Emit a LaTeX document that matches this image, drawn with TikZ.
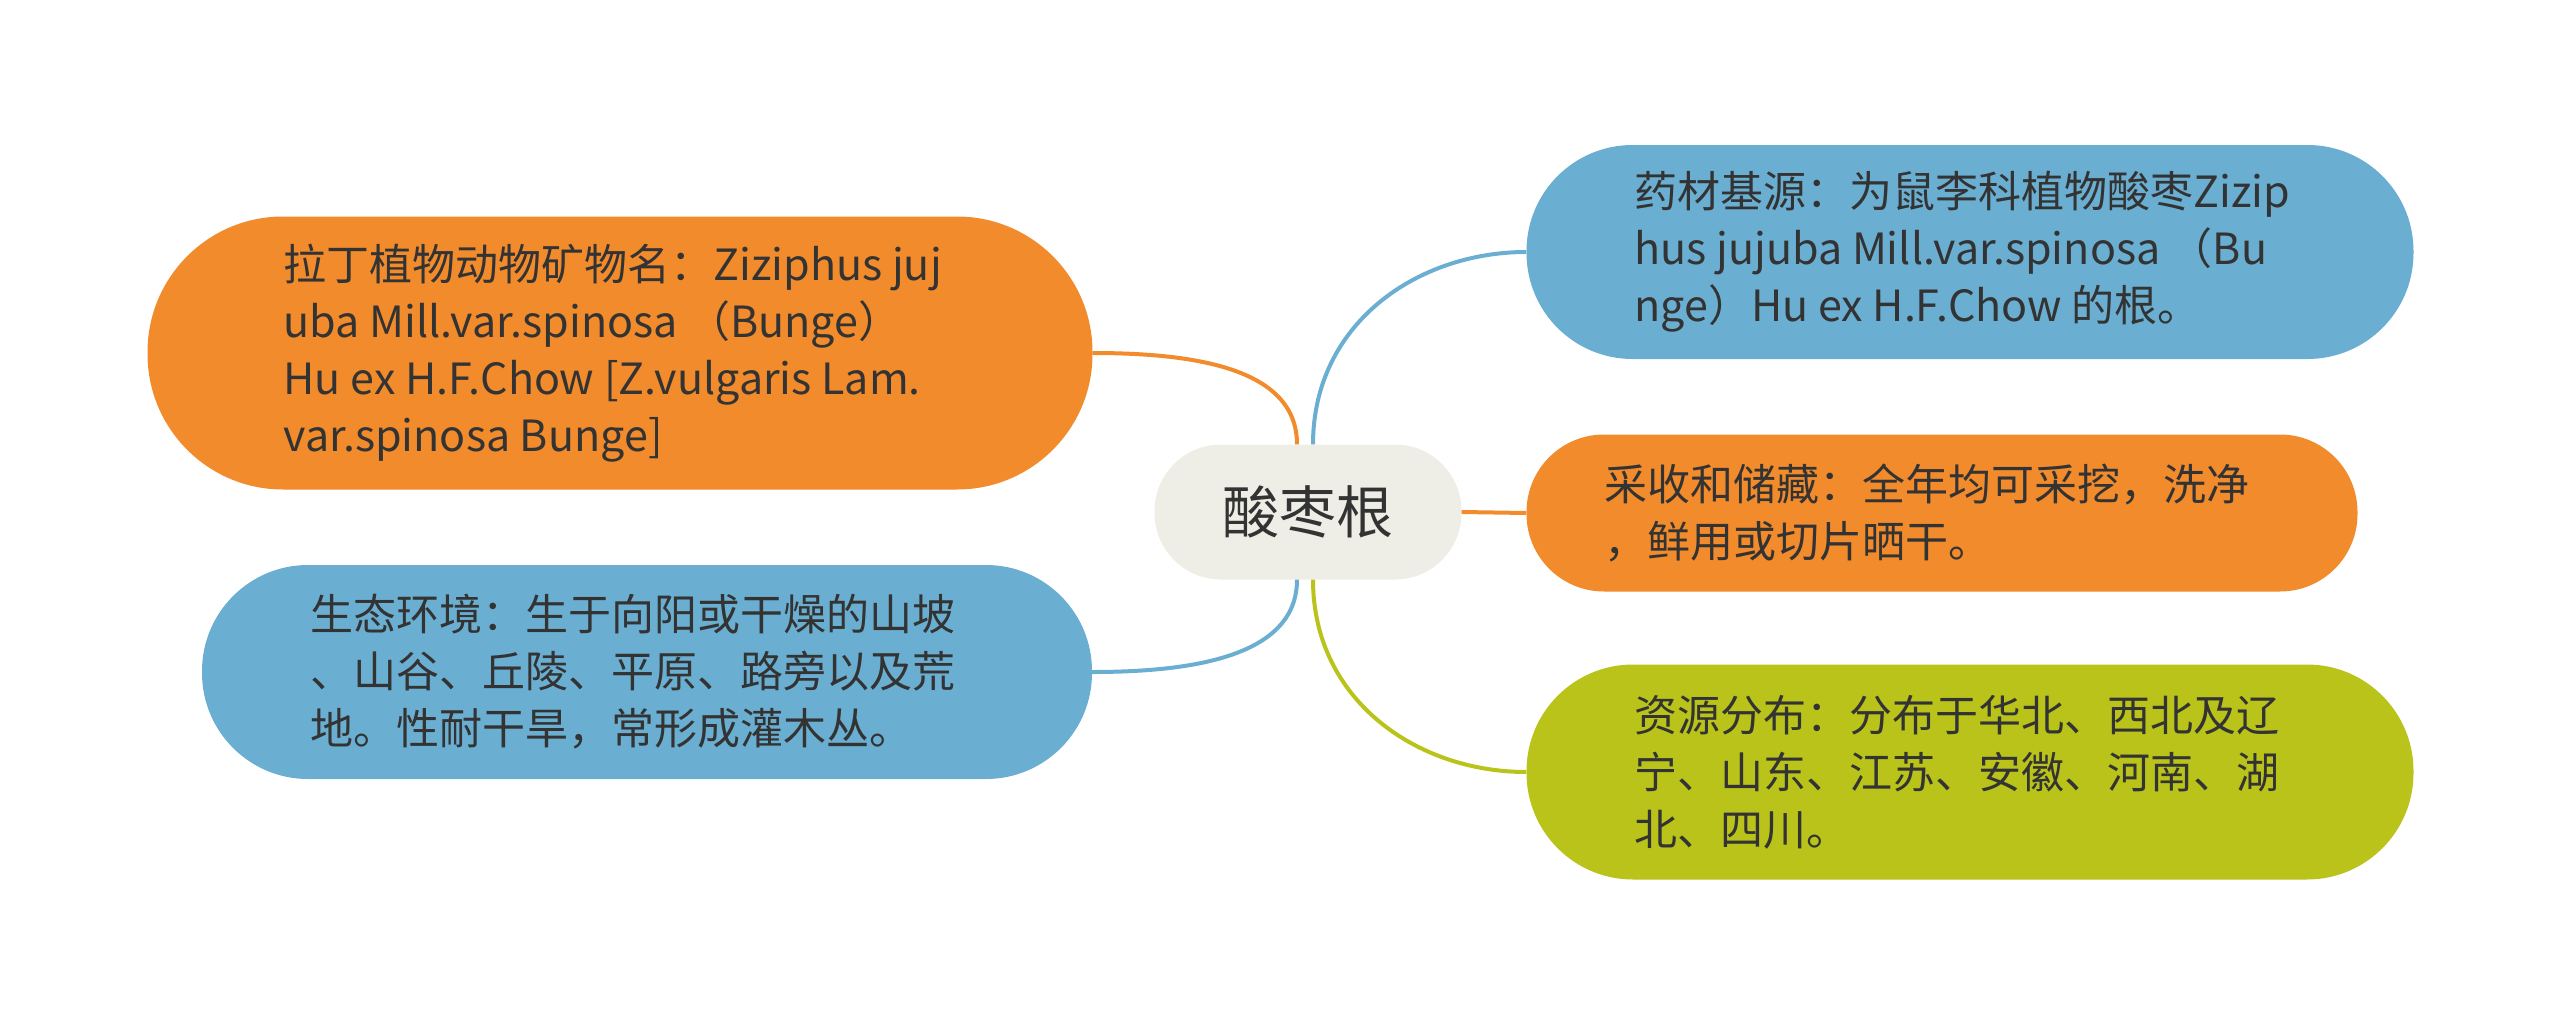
\documentclass[tikz,border=0pt]{standalone}
\usepackage{fontspec}
\setmainfont{Noto Sans CJK SC}
\definecolor{orgc}{HTML}{F28B2C}
\definecolor{bluc}{HTML}{6AAFD2}
\definecolor{grnc}{HTML}{B9C31A}
\definecolor{cenc}{HTML}{EEEEE6}
\definecolor{txtc}{HTML}{333333}
\begin{document}
\begin{tikzpicture}[x=1pt,y=-1pt,
  pill/.style={minimum height=#1, rounded corners=#1/2-1, inner sep=0pt, draw=none},
  txt/.style={anchor=west, align=left, inner sep=0pt, text=txtc, font=\fontsize{43}{57}\selectfont},
  conn/.style={line width=4pt}]
\useasboundingbox (0,0) rectangle (2560,1025);
% nodes
\node[pill=135, fill=cenc, minimum width=307] (c) at (1308,512) {};
\node[inner sep=0pt, text=txtc, font=\fontsize{57}{60}\selectfont] (ct) at (c.center) {酸枣根};

\node[pill=273, fill=orgc, minimum width=945] (n1) at (620,353) {};
\node[txt] (t1) at ([xshift=136]n1.west) {拉丁植物动物矿物名：Ziziphus juj\\uba Mill.var.spinosa （Bunge）\\Hu ex H.F.Chow [Z.vulgaris Lam.\\var.spinosa Bunge]};

\node[pill=214, fill=bluc, minimum width=890] (n2) at (647,672) {};
\node[txt] (t2) at ([xshift=108]n2.west) {生态环境：生于向阳或干燥的山坡\\、山谷、丘陵、平原、路旁以及荒\\地。性耐干旱，常形成灌木丛。};

\node[pill=214, fill=bluc, minimum width=887] (n3) at (1970,252) {};
\node[txt] (t3) at ([xshift=108]n3.west) {药材基源：为鼠李科植物酸枣Zizip\\hus jujuba Mill.var.spinosa （Bu\\nge）Hu ex H.F.Chow 的根。};

\node[pill=157, fill=orgc, minimum width=831] (n4) at (1942,513) {};
\node[txt] (t4) at ([xshift=78]n4.west) {采收和储藏：全年均可采挖，洗净\\，鲜用或切片晒干。};

\node[pill=215, fill=grnc, minimum width=887] (n5) at (1970,772) {};
\node[txt] (t5) at ([xshift=108]n5.west) {资源分布：分布于华北、西北及辽\\宁、山东、江苏、安徽、河南、湖\\北、四川。};

% connectors
\draw[conn, orgc] ([xshift=-11]c.north) .. controls +(0,-75) and +(105,0) .. (n1.east);
\draw[conn, bluc] ([xshift=5]c.north) .. controls +(0,-120) and +(-110,0) .. (n3.west);
\draw[conn, orgc] (c.east) -- (n4.west);
\draw[conn, bluc] ([xshift=-11]c.south) .. controls +(0,75) and +(105,0) .. (n2.east);
\draw[conn, grnc] ([xshift=5]c.south) .. controls +(0,120) and +(-110,0) .. (n5.west);
\end{tikzpicture}
\end{document}
